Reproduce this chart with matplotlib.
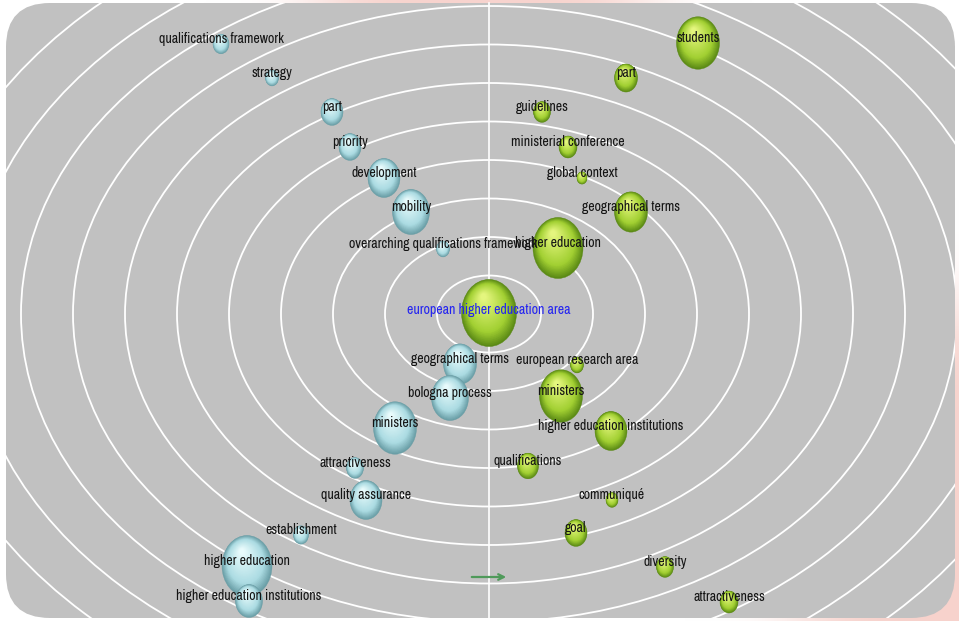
import numpy as np
import matplotlib
matplotlib.use("Agg")
import matplotlib.pyplot as plt
from matplotlib.patches import Ellipse, FancyBboxPatch
from matplotlib.colors import to_rgb


# Term map data (pixel positions in the 959x621 canvas, sphere width in px)

left_terms = [
    "qualifications framework", "strategy", "part", "priority", "development",
    "mobility", "overarching qualifications framework", "geographical terms",
    "bologna process", "ministers", "attractiveness", "quality assurance",
    "establishment", "higher education", "higher education institutions",
]
left_x = [221, 272, 332, 350, 384, 411, 443, 460, 450, 395, 355, 366, 301, 247, 249]
left_y = [44, 78, 112, 147, 178, 212, 249, 364, 398, 428, 468, 500, 535, 566, 601]
left_size = [16, 13, 22, 22, 32, 37, 13, 33, 37, 43, 17, 32, 15, 50, 27]

right_terms = [
    "students", "part", "guidelines", "ministerial conference", "global context",
    "geographical terms", "higher education", "european research area",
    "ministers", "higher education institutions", "qualifications",
    "communiqué", "goal", "diversity", "attractiveness",
]
right_x = [698, 626, 542, 568, 582, 631, 558, 577, 561, 611, 528, 612, 576, 665, 729]
right_y = [43, 78, 112, 147, 178, 212, 248, 365, 396, 431, 466, 500, 533, 567, 602]
right_size = [43, 23, 17, 18, 10, 33, 50, 13, 43, 32, 21, 12, 22, 17, 18]

focus_term = "european higher education area"
focus_x = 489
focus_y = 313
focus_size = 55

ring_count = 13


# Canvas

W, H = 959, 621
fig = plt.figure(figsize=(W / 100, H / 100), dpi=100)
ax = fig.add_axes([0, 0, 1, 1])
ax.set_xlim(0, W)
ax.set_ylim(H, 0)
ax.axis("off")

# soft pink glow behind the panel
glow = np.ones((8, 12, 3))
pink = np.array(to_rgb("#f7d2cc"))
glow[0, 4:8] = pink
glow[4:, 11] = pink
glow[7, 10:] = pink
ax.imshow(glow, extent=(0, W, H, 0), interpolation="bicubic", zorder=0)

panel = FancyBboxPatch(
    (6, 3), 949, 615,
    boxstyle="round,pad=0,rounding_size=44",
    facecolor="#c1c1c1",
    edgecolor="none",
    zorder=1,
)
ax.add_patch(panel)

# concentric rings around the focus term
for k in range(1, ring_count + 1):
    ring = Ellipse(
        (focus_x, 314), 2 * 52 * k, 2 * 38.5 * k,
        fill=False, edgecolor="white", linewidth=1.3, zorder=2,
    )
    ring.set_clip_path(panel)
    ax.add_patch(ring)

ax.plot([focus_x, focus_x], [3, 618], color="white", linewidth=1.2, zorder=2)

ax.annotate(
    "", xy=(509, 577), xytext=(469, 577),
    arrowprops=dict(arrowstyle="->", color="#4f9a5a", lw=1.6),
    zorder=3,
)


# Shaded spheres

def mix(c1, c2, t):
    a = np.array(to_rgb(c1))
    b = np.array(to_rgb(c2))
    return tuple(a + (b - a) * t)


def draw_sphere(x, y, w, dark, mid, light):
    h = w * 1.22
    steps = 28
    for i in range(steps):
        t = i / (steps - 1)
        s = 1 - 0.9 * t
        cx = x - 0.10 * w * t
        cy = y - 0.24 * h * t
        if t < 0.3:
            col = mix(dark, mid, t / 0.3)
        else:
            col = mix(mid, light, (t - 0.3) / 0.7)
        e = Ellipse((cx, cy), w * s, h * s, facecolor=col,
                    edgecolor=col, linewidth=0.3, zorder=4)
        e.set_clip_path(panel)
        ax.add_patch(e)


BLUE = ("#6a9ea6", "#acdce3", "#e8fbfc")
GREEN = ("#5b8a16", "#a2d032", "#e4f67e")

for x, y, s in zip(left_x, left_y, left_size):
    draw_sphere(x, y, s, *BLUE)

for x, y, s in zip(right_x, right_y, right_size):
    draw_sphere(x, y, s, *GREEN)

draw_sphere(focus_x, focus_y, focus_size, *GREEN)


# Labels

label_font = ["Archivo Narrow", "DejaVu Sans"]

for name, x, y in zip(left_terms + right_terms, left_x + right_x, left_y + right_y):
    ax.text(x, y - 5, name, ha="center", va="center", fontsize=10,
            color="#141414", family=label_font, zorder=6)

ax.text(focus_x, focus_y - 3, focus_term, ha="center", va="center",
        fontsize=10, color="#2424f0", family=label_font, zorder=6)

fig.savefig("out.png", dpi=100)
